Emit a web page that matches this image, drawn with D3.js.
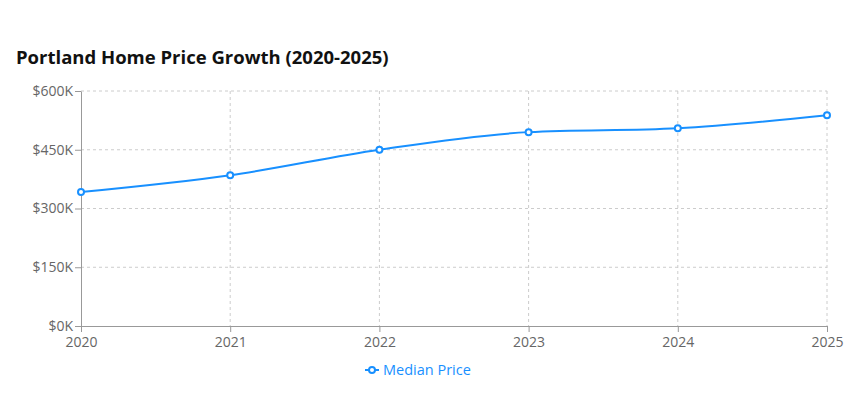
<!DOCTYPE html>
<html>
<head>
<meta charset="utf-8">
<script src="https://cdn.jsdelivr.net/npm/d3@7"></script>
<style>
  body { margin: 0; background: #fff; font-family: "Segoe UI", "Open Sans", "Noto Sans", sans-serif; }
  .grid line { stroke: #ccc; stroke-dasharray: 3 3; }
  .axis path, .axis line { stroke: #999; }
  .axis text { fill: #666; font-size: 14px; font-family: "Segoe UI", "Open Sans", sans-serif; }
</style>
</head>
<body>
<svg id="canvas" width="853" height="395"></svg>
<script>
// data
var years = [2020, 2021, 2022, 2023, 2024, 2025];
var prices = [342000, 385000, 450000, 495000, 505000, 538000];
var yTicks = [0, 150000, 300000, 450000, 600000];
var seriesName = 'Median Price';
var color = '#1890ff';

var svg = d3.select('#canvas');
var plot_left = 81, plot_right = 827, plot_top = 91, plot_bottom = 326;

var x = d3.scalePoint().domain(years).range([plot_left, plot_right]);
var y = d3.scaleLinear().domain([0, 600000]).range([plot_bottom, plot_top]);

// title
svg.append('text')
  .attr('x', 16).attr('y', 64)
  .style('font-size', '18.5px').style('font-weight', 'bold').style('fill', '#111')
  .text('Portland Home Price Growth (2020-2025)');

// grid
var grid = svg.append('g').attr('class', 'grid');
yTicks.forEach(function(t){
  if (t === 0) return;
  grid.append('line').attr('x1', plot_left).attr('x2', plot_right).attr('y1', y(t)).attr('y2', y(t));
});
years.forEach(function(yr){
  if (yr === years[0]) return;
  grid.append('line').attr('x1', x(yr)).attr('x2', x(yr)).attr('y1', plot_top).attr('y2', plot_bottom);
});

// axes
svg.append('g').attr('class', 'axis')
  .attr('transform', 'translate(0,' + plot_bottom + ')')
  .call(d3.axisBottom(x).tickSize(6).tickSizeOuter(0).tickPadding(3))
  .selectAll('text').attr('dy', '0.85em');

svg.append('g').attr('class', 'axis')
  .attr('transform', 'translate(' + plot_left + ',0)')
  .call(d3.axisLeft(y).tickValues(yTicks).tickSize(6).tickSizeOuter(0).tickPadding(2)
    .tickFormat(function(d){ return '$' + (d / 1000) + 'K'; }));

// line
var line = d3.line()
  .x(function(d, i){ return x(years[i]); })
  .y(function(d){ return y(d); })
  .curve(d3.curveMonotoneX);

svg.append('path').datum(prices)
  .attr('d', line)
  .attr('fill', 'none').attr('stroke', color).attr('stroke-width', 2);

svg.selectAll('.dot').data(prices).enter().append('circle')
  .attr('class', 'dot')
  .attr('cx', function(d, i){ return x(years[i]); })
  .attr('cy', function(d){ return y(d); })
  .attr('r', 3)
  .attr('fill', '#fff').attr('stroke', color).attr('stroke-width', 2);

// legend
var lg = svg.append('g').attr('transform', 'translate(365,370)');
lg.append('line').attr('x1', 0).attr('x2', 14).attr('y1', 0).attr('y2', 0)
  .attr('stroke', color).attr('stroke-width', 2);
lg.append('circle').attr('cx', 7).attr('cy', 0).attr('r', 3)
  .attr('fill', '#fff').attr('stroke', color).attr('stroke-width', 2);
lg.append('text').attr('x', 18).attr('y', 5)
  .style('font-size', '14.5px').style('fill', color)
  .text(seriesName);
</script>
</body>
</html>
